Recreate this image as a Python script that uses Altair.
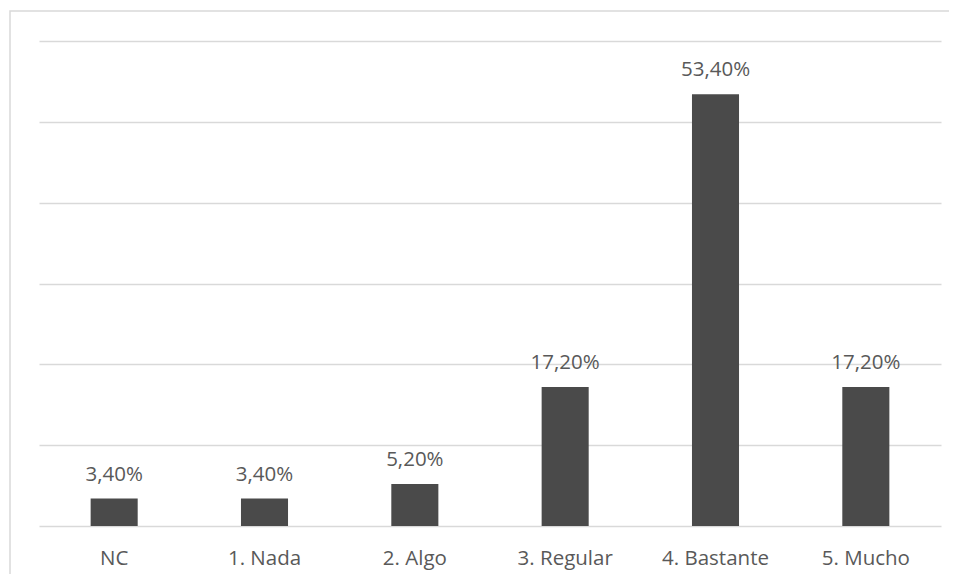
import altair as alt
import pandas as pd

categories = ["NC", "1. Nada", "2. Algo", "3. Regular", "4. Bastante", "5. Mucho"]
values = [3.4, 3.4, 5.2, 17.2, 53.4, 17.2]
labels = ["3,40%", "3,40%", "5,20%", "17,20%", "53,40%", "17,20%"]
y_ticks = [0, 10, 20, 30, 40, 50, 60]

df = pd.DataFrame({"cat": categories, "val": values, "lab": labels})

W, H = 902, 485
FONT = "Open Sans"
TXT = "#595959"
FS = 20.5

x_enc = alt.X("cat:N", sort=categories, title=None,
              scale=alt.Scale(paddingInner=0.687, paddingOuter=0.3435),
              axis=alt.Axis(labelAngle=0, domain=False, ticks=False, labelPadding=38,
                            labelFont=FONT, labelFontSize=FS, labelColor=TXT,
                            labelBaseline="alphabetic"))
y_enc = alt.Y("val:Q", title=None,
              scale=alt.Scale(domain=[0, 60], nice=False),
              axis=alt.Axis(values=y_ticks, labels=False, domain=False, ticks=False,
                            grid=True, gridColor="#d9d9d9", gridWidth=1.3))

bars = alt.Chart(df).mark_bar(color="#4a4a4a").encode(x=x_enc, y=y_enc)

text = alt.Chart(df).mark_text(font=FONT, fontSize=FS, color=TXT, baseline="alphabetic",
                               dy=-18).encode(
    x=alt.X("cat:N", sort=categories), y="val:Q", text="lab:N")

border = alt.Chart(pd.DataFrame({"a": [0]})).mark_rect(
    fill=None, stroke="#d9d9d9", strokeWidth=1.5).encode(
    x=alt.value(-29), x2=alt.value(1000), y=alt.value(-30), y2=alt.value(700))

chart = alt.layer(border, bars, text).properties(
    width=W, height=H,
    autosize=alt.AutoSizeParams(type="none"),
    padding={"left": 31, "top": 33, "right": 8, "bottom": 48},
).configure_view(stroke=None)

chart.save("out.html", embed_options={"renderer": "svg", "actions": False})
